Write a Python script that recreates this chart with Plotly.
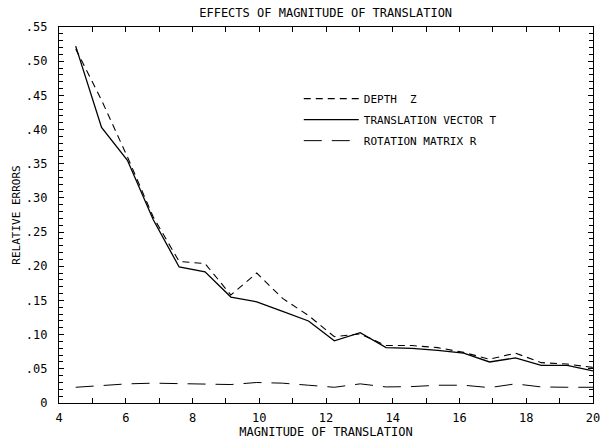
import plotly.graph_objects as go

# Data
magnitude = [4.5, 5.275, 6.05, 6.825, 7.6, 8.375, 9.15, 9.925, 10.7, 11.475, 12.25,
             13.025, 13.8, 14.575, 15.35, 16.125, 16.9, 17.675, 18.45, 19.225, 20.0]
depth_z = [0.518, 0.443, 0.360, 0.272, 0.207, 0.204, 0.158, 0.190, 0.153, 0.128, 0.097,
           0.101, 0.084, 0.084, 0.081, 0.074, 0.064, 0.073, 0.059, 0.057, 0.052]
translation_t = [0.522, 0.403, 0.355, 0.268, 0.199, 0.192, 0.155, 0.148, 0.134, 0.120, 0.091,
                 0.103, 0.081, 0.080, 0.077, 0.073, 0.060, 0.066, 0.055, 0.055, 0.047]
rotation_r = [0.023, 0.026, 0.028, 0.029, 0.028, 0.0275, 0.027, 0.030, 0.029, 0.026, 0.023,
              0.028, 0.0235, 0.024, 0.026, 0.026, 0.0225, 0.028, 0.0235, 0.023, 0.023]

y_tickvals = [0, 0.05, 0.10, 0.15, 0.20, 0.25, 0.30, 0.35, 0.40, 0.45, 0.50, 0.55]
y_ticktext = ["0", ".05", ".10", ".15", ".20", ".25", ".30", ".35", ".40", ".45", ".50", ".55"]
x_tickvals = [4, 6, 8, 10, 12, 14, 16, 18, 20]
x_ticktext = ["4", "6", "8", "10", "12", "14", "16", "18", "20"]

FONT = "DejaVu Sans Mono"

fig = go.Figure()
fig.add_trace(go.Scatter(x=magnitude, y=depth_z, mode="lines", name="DEPTH  Z",
                         legendgroup="a",
                         line=dict(color="black", width=1.1, dash="7px,5px")))
fig.add_trace(go.Scatter(x=magnitude, y=translation_t, mode="lines", name="TRANSLATION VECTOR T",
                         legendgroup="b",
                         line=dict(color="black", width=1.3)))
fig.add_trace(go.Scatter(x=magnitude, y=rotation_r, mode="lines", name="ROTATION MATRIX R",
                         legendgroup="c",
                         line=dict(color="black", width=1.0, dash="18px,10px")))
# invisible trace for mirror axes
fig.add_trace(go.Scatter(x=magnitude, y=translation_t, xaxis="x2", yaxis="y2", mode="lines",
                         line=dict(width=0), showlegend=False, hoverinfo="skip", opacity=0))

common = dict(showgrid=False, zeroline=False, showline=True, linecolor="black", linewidth=1.3,
              ticks="inside", tickcolor="black", tickwidth=1, automargin=False)

fig.update_layout(
    width=611, height=442,
    margin=dict(l=59, r=18, t=27, b=39),
    paper_bgcolor="white", plot_bgcolor="white",
    font=dict(family=FONT, size=11, color="black"),
    title=dict(text="EFFECTS OF MAGNITUDE OF TRANSLATION", x=0.533, xanchor="center",
               y=0.970, yanchor="middle", font=dict(family=FONT, size=12)),
    xaxis=dict(range=[4, 20], tickvals=x_tickvals, ticktext=x_ticktext, ticklen=5,
               minor=dict(ticks="inside", dtick=1, tick0=4, ticklen=5, tickcolor="black"),
               title=dict(text="MAGNITUDE OF TRANSLATION", standoff=4, font=dict(size=12)),
               ticklabelstandoff=3,
               tickfont=dict(size=12), **common),
    yaxis=dict(range=[0, 0.55], tickvals=y_tickvals, ticktext=y_ticktext, ticklen=5,
               minor=dict(ticks="inside", dtick=0.01, tick0=0, ticklen=4, tickcolor="black"),
               title=dict(text="RELATIVE ERRORS", standoff=2, font=dict(size=11)),
               ticklabelstandoff=8,
               tickfont=dict(size=12), **common),
    xaxis2=dict(range=[4, 20], overlaying="x", side="top", showticklabels=False,
                tickvals=x_tickvals, ticklen=5,
                minor=dict(ticks="inside", dtick=1, tick0=4, ticklen=5, tickcolor="black"),
                **common),
    yaxis2=dict(range=[0, 0.55], overlaying="y", side="right", showticklabels=False,
                tickvals=y_tickvals, ticklen=5,
                minor=dict(ticks="inside", dtick=0.01, tick0=0, ticklen=4, tickcolor="black"),
                **common),
    legend=dict(x=0.449, y=0.848, xanchor="left", yanchor="top", bgcolor="rgba(0,0,0,0)",
                font=dict(family=FONT, size=11), itemwidth=55, tracegroupgap=2,
                traceorder="grouped"),
    showlegend=True,
)

fig.write_html("out.html")
